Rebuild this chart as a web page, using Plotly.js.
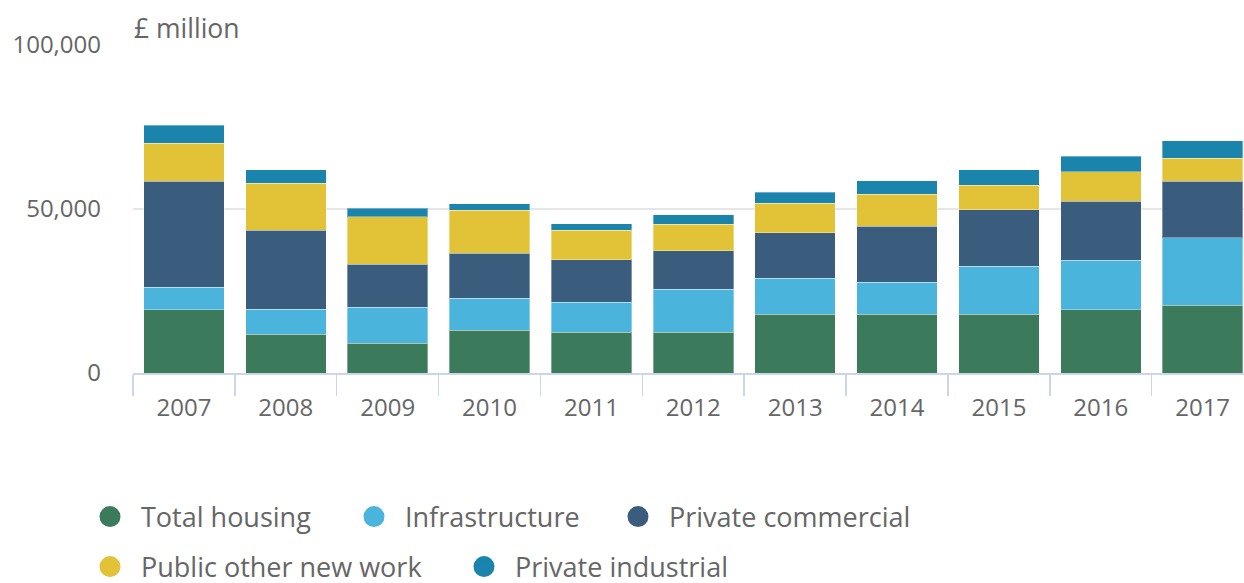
<!DOCTYPE html>
<html>
<head>
<meta charset="utf-8">
<script src="https://cdn.plot.ly/plotly-3.0.1.min.js"></script>
<style>
html, body { margin: 0; padding: 0; background: #ffffff; overflow: hidden; }
#chart { width: 1244px; height: 583px; }
</style>
</head>
<body>
<div id="chart"></div>
<script>
// Data (£ million)
const years = ['2007', '2008', '2009', '2010', '2011', '2012', '2013', '2014', '2015', '2016', '2017'];
const totalHousing = [19300, 11800, 9000, 13100, 12500, 12500, 17900, 17900, 17900, 19300, 20600];
const infrastructure = [6800, 7600, 11000, 9700, 9000, 13100, 11000, 9700, 14600, 15100, 20600];
const privateCommercial = [32400, 24100, 13100, 13700, 13000, 11600, 13800, 17200, 17200, 18000, 17300];
const publicOtherNewWork = [11600, 14400, 14500, 13100, 9000, 8200, 9000, 9700, 7500, 8900, 6900];
const privateIndustrial = [5500, 4100, 2700, 2000, 2000, 2800, 3400, 4100, 4700, 4800, 5400];
const yTickValues = [0, 50000, 100000];

const seriesNames = ['Total housing', 'Infrastructure', 'Private commercial', 'Public other new work', 'Private industrial'];
const seriesValues = [totalHousing, infrastructure, privateCommercial, publicOtherNewWork, privateIndustrial];
const seriesColors = ['#3b7a5b', '#4ab4dc', '#3a5d7d', '#e2c236', '#1a84ac'];
const legendRow = ['legend', 'legend', 'legend', 'legend2', 'legend2'];
const legendEntryWidth = [197, 197, 280, 307, 280];

const traces = [];
seriesNames.forEach((name, i) => {
  traces.push({
    type: 'bar',
    name: name,
    x: years,
    y: seriesValues[i],
    marker: { color: seriesColors[i], line: { color: 'rgba(255,255,255,0.35)', width: 1 } },
    showlegend: false,
    hovertemplate: '%{x}<br>' + name + ': %{y:,}<extra></extra>'
  });
});
// legend entries (circle symbols)
seriesNames.forEach((name, i) => {
  traces.push({
    type: 'scatter',
    mode: 'markers',
    name: name,
    x: [null],
    y: [null],
    marker: { color: seriesColors[i], size: 16, symbol: 'circle', line: { color: seriesColors[i], width: 5 } },
    legend: legendRow[i],
    legendwidth: legendEntryWidth[i],
    showlegend: true,
    hoverinfo: 'skip'
  });
});

const textColor = '#666666';
const fam = '"Open Sans", "Noto Sans", sans-serif';

const layout = {
  width: 1244,
  height: 583,
  margin: { l: 133, r: 0, t: 45, b: 210, pad: 0 },
  paper_bgcolor: '#ffffff',
  plot_bgcolor: '#ffffff',
  font: { family: fam, size: 24, color: textColor },
  barmode: 'stack',
  bargap: 0.21,
  title: {
    text: '£ million',
    font: { family: fam, size: 26.5, color: textColor },
    xref: 'container',
    yref: 'container',
    x: 134 / 1244,
    xanchor: 'left',
    y: 1 - 29 / 583,
    yanchor: 'middle'
  },
  xaxis: {
    type: 'category',
    range: [-0.5, 10.406],
    tickson: 'boundaries',
    ticks: 'outside',
    ticklen: 21,
    tickwidth: 1.5,
    tickcolor: '#ccd6eb',
    showline: true,
    linecolor: '#ccd6eb',
    linewidth: 1.5,
    showgrid: false,
    ticklabelstandoff: 13,
    tickfont: { family: fam, size: 24, color: textColor },
    fixedrange: true
  },
  yaxis: {
    range: [0, 100000],
    tickvals: yTickValues,
    tickformat: ',',
    showline: false,
    zeroline: false,
    showgrid: true,
    gridcolor: '#e6e6e6',
    gridwidth: 2,
    ticks: '',
    ticklabelstandoff: 31,
    tickfont: { family: fam, size: 24, color: textColor },
    fixedrange: true
  },
  separators: '.,',
  legend: {
    orientation: 'h',
    traceorder: 'normal',
    xref: 'container',
    yref: 'container',
    x: 79 / 1244,
    xanchor: 'left',
    y: 1 - 517 / 583,
    yanchor: 'middle',
    itemwidth: 52,
    entrywidthmode: 'pixels',
    font: { family: fam, size: 27, color: textColor },
    bgcolor: 'rgba(0,0,0,0)',
    borderwidth: 0,
    itemclick: false,
    itemdoubleclick: false
  },
  legend2: {
    orientation: 'h',
    traceorder: 'normal',
    xref: 'container',
    yref: 'container',
    x: 79 / 1244,
    xanchor: 'left',
    y: 1 - 567 / 583,
    yanchor: 'middle',
    itemwidth: 52,
    entrywidthmode: 'pixels',
    font: { family: fam, size: 27, color: textColor },
    bgcolor: 'rgba(0,0,0,0)',
    borderwidth: 0,
    itemclick: false,
    itemdoubleclick: false
  },
  showlegend: true
};

Plotly.newPlot('chart', traces, layout, { displayModeBar: false, staticPlot: true });
</script>
</body>
</html>
